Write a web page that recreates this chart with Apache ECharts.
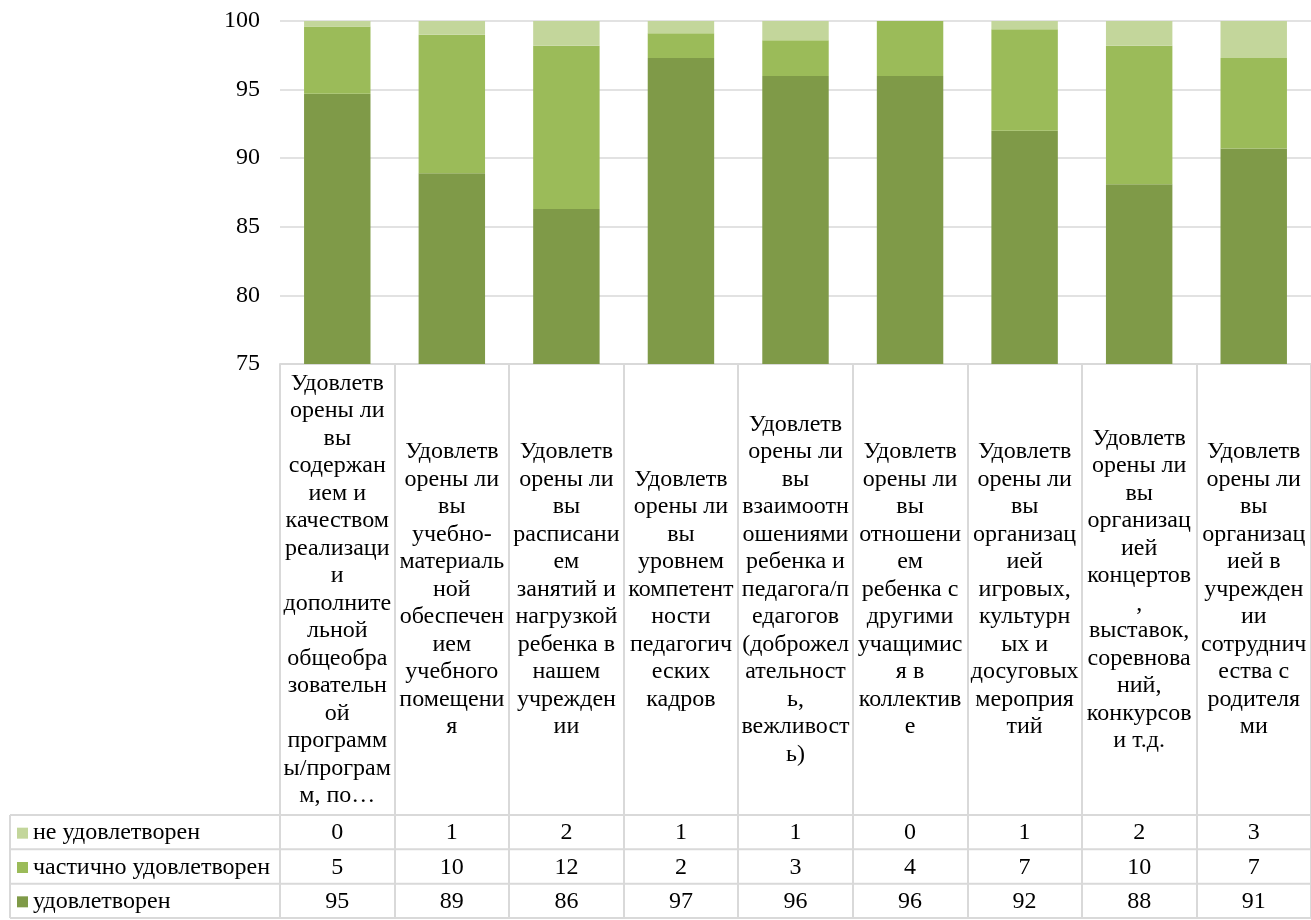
<!DOCTYPE html>
<html>
<head>
<meta charset="utf-8">
<script src="https://cdn.jsdelivr.net/npm/echarts@6/dist/echarts.min.js"></script>
<style>
html,body{margin:0;padding:0;background:#fff;}
#chart{width:1311px;height:920px;}
</style>
</head>
<body>
<div id="chart"></div>
<script>
const categories = [
  "Удовлетв\nорены ли\nвы\nсодержан\nием и\nкачеством\nреализаци\nи\nдополните\nльной\nобщеобра\nзовательн\nой\nпрограмм\nы/програм\nм, по…",
  "Удовлетв\nорены ли\nвы\nучебно-\nматериаль\nной\nобеспечен\nием\nучебного\nпомещени\nя",
  "Удовлетв\nорены ли\nвы\nрасписани\nем\nзанятий и\nнагрузкой\nребенка в\nнашем\nучрежден\nии",
  "Удовлетв\nорены ли\nвы\nуровнем\nкомпетент\nности\nпедагогич\nеских\nкадров",
  "Удовлетв\nорены ли\nвы\nвзаимоотн\nошениями\nребенка и\nпедагога/п\nедагогов\n(доброжел\nательност\nь,\nвежливост\nь)",
  "Удовлетв\nорены ли\nвы\nотношени\nем\nребенка с\nдругими\nучащимис\nя в\nколлектив\nе",
  "Удовлетв\nорены ли\nвы\nорганизац\nией\nигровых,\nкультурн\nых и\nдосуговых\nмероприя\nтий",
  "Удовлетв\nорены ли\nвы\nорганизац\nией\nконцертов\n,\nвыставок,\nсоревнова\nний,\nконкурсов\nи т.д.",
  "Удовлетв\nорены ли\nвы\nорганизац\nией в\nучрежден\nии\nсотруднич\nества с\nродителя\nми"
];
const satisfied    = [94.7, 88.9, 86.3, 97.3, 96.0, 96.0, 92.0, 88.1, 90.7];
const partial      = [4.9, 10.1, 11.9, 1.8, 2.6, 4.0, 7.4, 10.1, 6.6];
const notSatisfied = [0.4, 1.0, 1.8, 0.9, 1.4, 0.0, 0.6, 1.8, 2.7];
const seriesNames = ["удовлетворен", "частично удовлетворен", "не удовлетворен"];
const tableRowOrder = ["не удовлетворен", "частично удовлетворен", "удовлетворен"];
const yTicks = { min: 75, max: 100, interval: 5 };

const FONT = '"Liberation Serif", "Times New Roman", serif';
const FS = 24;
const GRID_LINE = '#d9d9d9';
const colors = { dark: '#7f9a48', mid: '#9bbb59', light: '#c3d69b' };

const W = 1311, H = 920;
const gridLeft = 280, gridTop = 21, axisY = 364;
const labelRowBottom = 815;
const rowH = (918 - labelRowBottom) / 3;
const tableBottom = 918;

function rowCenter(i) { return labelRowBottom + rowH * (i + 0.5); }

function tableAxis(arr, rowIdx) {
  return {
    type: 'category', gridIndex: 0, position: 'bottom',
    data: categories, offset: rowCenter(rowIdx) - axisY + 1,
    axisLine: { show: false }, axisTick: { show: false },
    splitLine: { show: false },
    axisLabel: {
      interval: 0, margin: 0, verticalAlign: 'middle',
      fontFamily: FONT, fontSize: FS, color: '#000',
      formatter: (v, i) => String(Math.round(arr[i]))
    }
  };
}

function legendRow(name, i) {
  return {
    orient: 'vertical', left: 17, top: rowCenter(i) - FS / 2 + 1, padding: 0,
    itemWidth: 11, itemHeight: 11, icon: 'rect', selectedMode: false, itemGap: 0,
    data: [name],
    textStyle: { fontFamily: FONT, fontSize: FS, color: '#000', lineHeight: FS }
  };
}

const graphics = [];
for (let k = 0; k <= 3; k++) {
  const y = labelRowBottom + rowH * k;
  graphics.push({ type: 'line', shape: { x1: 10, y1: y, x2: W, y2: y },
    style: { stroke: GRID_LINE, lineWidth: 2 }, silent: true });
}
graphics.push({ type: 'line', shape: { x1: 10, y1: labelRowBottom, x2: 10, y2: tableBottom },
  style: { stroke: GRID_LINE, lineWidth: 2 }, silent: true });

const chart = echarts.init(document.getElementById('chart'));
chart.setOption({
  animation: false,
  backgroundColor: '#fff',
  textStyle: { fontFamily: FONT },
  grid: { left: gridLeft, right: 0, top: gridTop, bottom: H - axisY, containLabel: false },
  legend: tableRowOrder.map(legendRow),
  xAxis: [
    {
      type: 'category', gridIndex: 0, data: categories, position: 'bottom',
      axisLine: { show: true, lineStyle: { color: GRID_LINE, width: 2 } },
      axisTick: { show: true, inside: false, length: tableBottom - axisY, lineStyle: { color: GRID_LINE, width: 2 } },
      axisLabel: {
        interval: 0, margin: (labelRowBottom - axisY) / 2, verticalAlign: 'middle',
        fontFamily: FONT, fontSize: FS, lineHeight: 27.5, color: '#000', align: 'center'
      }
    },
    tableAxis(notSatisfied, 0),
    tableAxis(partial, 1),
    tableAxis(satisfied, 2)
  ],
  yAxis: {
    type: 'value', min: yTicks.min, max: yTicks.max, interval: yTicks.interval,
    axisLine: { show: false }, axisTick: { show: false },
    splitLine: { lineStyle: { color: GRID_LINE, width: 1.5 } },
    axisLabel: { fontFamily: FONT, fontSize: FS, color: '#000', margin: 20 }
  },
  series: [
    { name: seriesNames[0], type: 'bar', stack: 's', data: satisfied, barCategoryGap: '42%', itemStyle: { color: colors.dark } },
    { name: seriesNames[1], type: 'bar', stack: 's', data: partial, itemStyle: { color: colors.mid } },
    { name: seriesNames[2], type: 'bar', stack: 's', data: notSatisfied, itemStyle: { color: colors.light } }
  ],
  graphic: graphics
});
</script>
</body>
</html>
